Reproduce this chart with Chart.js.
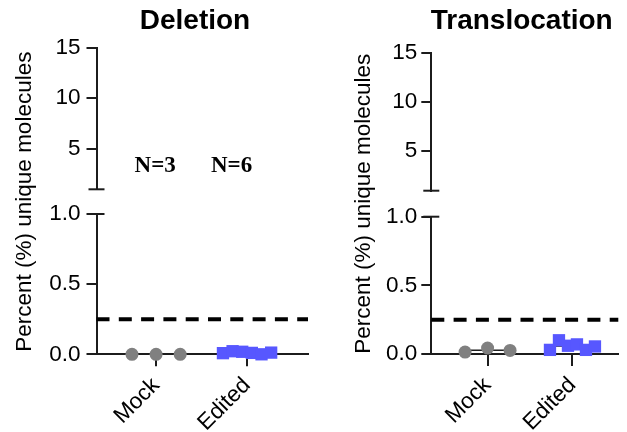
<!DOCTYPE html>
<html><head><meta charset="utf-8">
<script src="https://cdn.jsdelivr.net/npm/chart.js@4/dist/chart.umd.min.js"></script>
<style>
html,body{margin:0;padding:0;background:#fff;}
#wrap{position:relative;width:627px;height:432px;overflow:hidden;background:#fff;}
canvas{position:absolute;top:0;}
</style></head><body>
<div id="wrap">
<canvas id="c1" width="320" height="432" style="left:0px;width:320px;height:432px"></canvas>
<canvas id="c2" width="307" height="432" style="left:320px;width:307px;height:432px"></canvas>
</div>
<script>
// ---- data ----
const categories = ['Mock', 'Edited'];
const panelTitles = ['Deletion', 'Translocation'];
const deletionMock = [0.0, 0.0, 0.0];
const deletionEdited = [0.008, 0.022, 0.018, 0.01, 0.0, 0.012];
const translocationMock = [0.014, 0.043, 0.026];
const translocationEdited = [0.03, 0.10, 0.06, 0.07, 0.03, 0.055];
const topTicks = [5, 10, 15];
const bottomTicks = [0.0, 0.5, 1.0];
const threshold = [0.25];
const nLabels = ['N=3', 'N=6'];
const yAxisTitle = 'Percent (%) unique molecules';

// ---- styles ----
const FONT = "'Liberation Sans', Arial, Helvetica, sans-serif";
const SERIF = "'Liberation Serif', 'Times New Roman', serif";
const INK = '#1c1c1c';
const GREY = '#808080';
const BLUE = '#5757ff';
const JITTER = 0.53;

function jitter(values, catIndex) {
  const n = values.length;
  const step = n > 1 ? JITTER / (n - 1) : 0;
  return values.map((v, i) => ({x: catIndex + (i - (n - 1) / 2) * step, y: v}));
}
function meanLine(values, catIndex) {
  const m = values.reduce((a, b) => a + b, 0) / values.length;
  return [{x: catIndex - JITTER / 2, y: m}, {x: catIndex + JITTER / 2, y: m}];
}

const decor = {
  id: 'decor',
  beforeDatasetsDraw(chart, args, o) {
    const {ctx, chartArea} = chart;
    const yb = chart.scales.yBot, yt = chart.scales.yTop;
    const ax = yb.right;
    ctx.save();
    ctx.strokeStyle = '#000';
    ctx.lineWidth = 4;
    ctx.setLineDash([13, 9.3]);
    threshold.forEach(t => {
      const y = yb.getPixelForValue(t);
      ctx.beginPath(); ctx.moveTo(chartArea.left, y); ctx.lineTo(chartArea.right, y); ctx.stroke();
    });
    ctx.setLineDash([]);
    ctx.strokeStyle = INK;
    ctx.lineWidth = 2;
    [yt.getPixelForValue(yt.min), yb.getPixelForValue(yb.max)].forEach(y => {
      ctx.beginPath(); ctx.moveTo(ax - 8, y); ctx.lineTo(ax + 8, y); ctx.stroke();
    });
    ctx.restore();
  },
  afterDraw(chart, args, o) {
    const {ctx} = chart;
    ctx.save();
    ctx.fillStyle = '#000';
    ctx.textAlign = 'center';
    ctx.textBaseline = 'middle';
    ctx.font = 'bold 28px ' + FONT;
    ctx.fillText(o.title, o.titleX, o.titleY);
    if (o.showN) {
      const xs = chart.scales.x, yt = chart.scales.yTop;
      ctx.font = 'bold 23px ' + SERIF;
      nLabels.forEach((t, i) => {
        ctx.fillText(t, xs.getPixelForValue(o.nX[i]), yt.getPixelForValue(o.nY));
      });
    }
    ctx.restore();
  }
};

function makePanel(p) {
  const tickFont = {family: FONT, size: 22.5};
  const yCommon = {
    type: 'linear', position: 'left', stack: 'y',
    grid: {drawOnChartArea: false, drawTicks: true, tickLength: 10, color: INK, lineWidth: 2},
    border: {display: true, color: INK, width: 2},
    ticks: {font: tickFont, color: '#000', padding: p.tickPad}
  };
  new Chart(document.getElementById(p.canvas), {
    type: 'scatter',
    data: {
      datasets: [
        {data: jitter(p.edited, 2), pointStyle: 'rect', pointRadius: 8.7, pointHoverRadius: 8.7,
         backgroundColor: BLUE, borderColor: BLUE, borderWidth: 0, xAxisID: 'x', yAxisID: 'yBot', order: 1, clip: false},
        {data: jitter(p.mock, 1), pointStyle: 'circle', pointRadius: 6.5, pointHoverRadius: 6.5,
         backgroundColor: GREY, borderColor: GREY, borderWidth: 0, xAxisID: 'x', yAxisID: 'yBot', order: 1, clip: false},
        {type: 'line', data: meanLine(p.mock, 1), borderColor: INK, borderWidth: 1.5, pointRadius: 0,
         xAxisID: 'x', yAxisID: 'yBot', order: 2, clip: false},
        {type: 'line', data: meanLine(p.edited, 2), borderColor: INK, borderWidth: 1.5, pointRadius: 0,
         xAxisID: 'x', yAxisID: 'yBot', order: 2, clip: false}
      ]
    },
    options: {
      responsive: false, animation: false, devicePixelRatio: 1,
      layout: {padding: {top: p.padTop, right: p.padRight, left: 0, bottom: 0}},
      plugins: {
        legend: {display: false}, tooltip: {enabled: false}, title: {display: false},
        decor: {title: p.title, titleX: p.titleX, titleY: 21, showN: p.showN, nX: [0.99, 1.83], nY: 3.3}
      },
      scales: {
        x: {
          type: 'linear', position: 'bottom', min: p.xMin, max: p.xMax,
          afterBuildTicks: s => { s.ticks = categories.map((c, i) => ({value: i + 1})); },
          afterFit: s => { s.height = p.xBoxH; },
          grid: {drawOnChartArea: false, drawTicks: true, tickLength: 12, color: INK, lineWidth: 2},
          border: {display: true, color: INK, width: 2},
          ticks: {font: tickFont, color: '#000', autoSkip: false, minRotation: 45, maxRotation: 45, padding: 6,
                  callback: (v, i) => categories[i]}
        },
        yBot: Object.assign({}, yCommon, {
          min: 0, max: 1, stackWeight: p.weights[2],
          afterBuildTicks: s => { s.ticks = bottomTicks.map(v => ({value: v})); },
          ticks: Object.assign({}, yCommon.ticks, {callback: v => Number(v).toFixed(1)})
        }),
        yGap: {
          type: 'linear', position: 'left', stack: 'y', stackWeight: p.weights[1], min: 0, max: 1,
          grid: {display: false, drawTicks: false}, border: {display: false},
          ticks: {display: false},
          title: {display: true, text: yAxisTitle, color: '#000', font: {family: FONT, size: 22.5},
                  padding: {top: p.gapPad[0], bottom: p.gapPad[1]}}
        },
        yTop: Object.assign({}, yCommon, {
          min: 1, max: 15, stackWeight: p.weights[0],
          afterBuildTicks: s => { s.ticks = topTicks.map(v => ({value: v})); },
          ticks: Object.assign({}, yCommon.ticks, {callback: v => String(v)})
        })
      }
    },
    plugins: [decor]
  });
}

makePanel({canvas: 'c1', title: panelTitles[0], titleX: 195, mock: deletionMock, edited: deletionEdited,
  padTop: 47.7, padRight: 12, xMin: 0.345, xMax: 2.67, weights: [141.6, 24.7, 140.3],
  gapPad: [11.5, 58], tickPad: 6, showN: true, xBoxH: 77.7});
makePanel({canvas: 'c2', title: panelTitles[1], titleX: 201.7, mock: translocationMock, edited: translocationEdited,
  padTop: 52.7, padRight: 0, xMin: 0.337, xMax: 2.54, weights: [138, 26, 137.3],
  gapPad: [30.5, 53.8], tickPad: 4, showN: false, xBoxH: 78});
</script>
</body></html>
